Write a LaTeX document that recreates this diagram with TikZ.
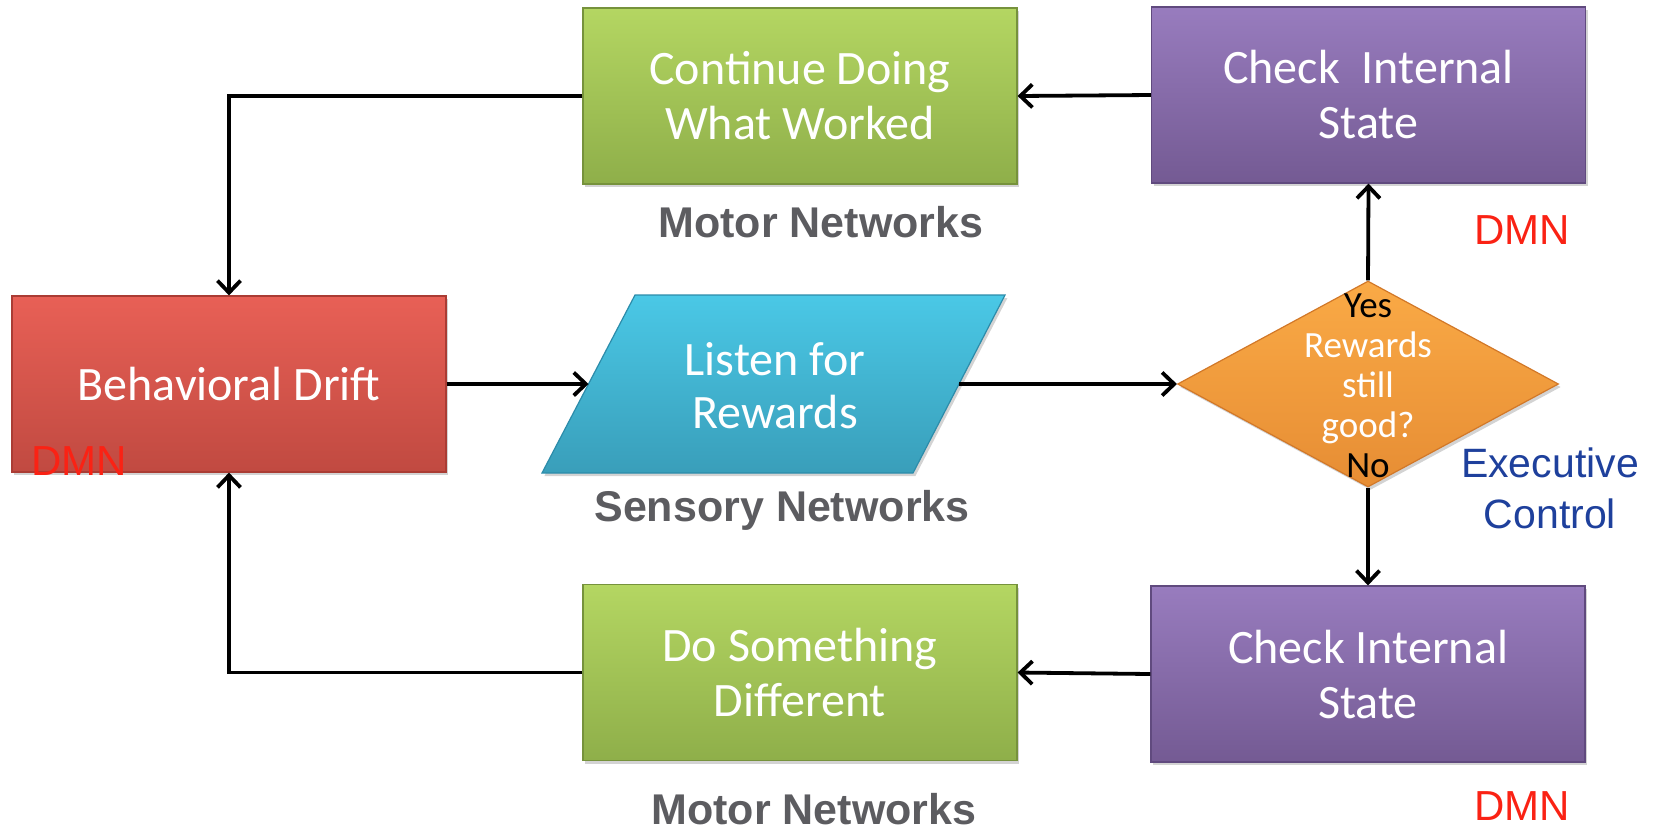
\documentclass[tikz,border=0pt]{standalone}
\usepackage{fontspec}
\setmainfont{Carlito}
\newfontfamily\labelfont{Liberation Sans}
\usetikzlibrary{shapes.geometric,arrows.meta,shadows}

\definecolor{driftred}{RGB}{214,82,72}
\definecolor{driftredtop}{RGB}{232,96,86}
\definecolor{driftreddark}{RGB}{170,60,52}
\definecolor{actgreen}{RGB}{155,190,80}
\definecolor{actgreentop}{RGB}{180,214,98}
\definecolor{actgreendark}{RGB}{118,146,60}
\definecolor{chkpurple}{RGB}{126,98,160}
\definecolor{chkpurpletop}{RGB}{152,124,190}
\definecolor{chkpurpledark}{RGB}{96,74,126}
\definecolor{sensecyan}{RGB}{62,172,202}
\definecolor{sensecyantop}{RGB}{74,200,230}
\definecolor{sensecyandark}{RGB}{44,140,170}
\definecolor{decorange}{RGB}{245,150,55}
\definecolor{decorangetop}{RGB}{250,170,70}
\definecolor{decorangedark}{RGB}{210,120,40}
\definecolor{netgray}{RGB}{92,92,96}
\definecolor{dmnred}{RGB}{250,34,20}
\definecolor{execblue}{RGB}{30,64,156}

\tikzset{
  boxshadow/.style={drop shadow={opacity=0.35, shadow xshift=1.2pt, shadow yshift=-1.5pt}},
  stepbox/.style={rectangle, line width=0.6pt, minimum width=217pt, minimum height=88pt,
    inner sep=0pt, align=center, text=white, font=\fontsize{24}{27.5}\selectfont, boxshadow},
  driftbox/.style={stepbox, draw=driftreddark, top color=driftredtop, bottom color=driftred!90!black},
  actbox/.style={stepbox, draw=actgreendark, top color=actgreentop, bottom color=actgreen!92!black},
  chkbox/.style={stepbox, draw=chkpurpledark, top color=chkpurpletop, bottom color=chkpurple!92!black},
  flowline/.style={line width=1.9pt, -{Straight Barb[length=6pt,width=11.5pt,line width=1.9pt]}},
  netlabel/.style={text=netgray, font=\labelfont\bfseries\fontsize{21.5}{26}\selectfont},
  dmnlabel/.style={text=dmnred, font=\labelfont\fontsize{21}{25}\selectfont},
}

\begin{document}
\begin{tikzpicture}[x=0.5pt,y=0.5pt,yscale=-1,xscale=1]
\useasboundingbox (0,0) rectangle (1657,832);

%Shape: Rectangle [id:drift]
\node [driftbox] (drift) at (229,384) {Behavioral Drift};
%Shape: Rectangle [id:cont]
\node [actbox] (cont) at (800,96) {Continue Doing\\What Worked};
%Shape: Rectangle [id:dosth]
\node [actbox] (dosth) at (800,672.5) {Do Something\\Different};
%Shape: Rectangle [id:chktop]
\node [chkbox] (chktop) at (1368.5,95) {Check\ \ Internal\\State};
%Shape: Rectangle [id:chkbot]
\node [chkbox] (chkbot) at (1368,674) {Check Internal\\State};
%Shape: Parallelogram [id:listen]
\path [draw=sensecyandark, line width=0.6pt, top color=sensecyantop, bottom color=sensecyan!92!black, boxshadow]
  (635,295) -- (1005,295) -- (913,473) -- (542,473) -- cycle;
\coordinate (lsnin) at (588.5,384);
\coordinate (lsnout) at (959,384);
\node [align=center, text=white, font=\fontsize{24}{26.5}\selectfont] (listen) at (775,386) {Listen for\\Rewards};
%Shape: Diamond [id:rew]
\node [diamond, minimum width=190.5pt, minimum height=103pt, inner sep=0pt,
  draw=decorangedark, line width=0.6pt, top color=decorangetop, bottom color=decorange!94!black,
  boxshadow]
  (rew) at (1368,384) {};
\node [align=center, text=white, font=\fontsize{18.5}{20}\selectfont] (rewtxt) at (1368,386)
  {\textcolor{black}{Yes}\\Rewards\\still\\good?\\\textcolor{black}{No}};

% Connectors
\draw [flowline] (cont.west) -| (drift.north);
\draw [flowline] (dosth.west) -| (drift.south);
\draw [flowline] (drift.east) -- (lsnin);
\draw [flowline] (lsnout) -- (rew.west);
\draw [flowline] (rew.north) -- (chktop.south);
\draw [flowline] (rew.south) -- (chkbot.north);
\draw [flowline] (chktop.west) -- (cont.east);
\draw [flowline] (chkbot.west) -- (dosth.east);

% Text Node
\node [netlabel] (mottop) at (821,222) {Motor Networks};
% Text Node
\node [netlabel] (sens) at (782,510) {Sensory Networks};
% Text Node
\node [netlabel] (motbot) at (814,809) {Motor Networks};
% Text Node
\node [dmnlabel] (dmndrift) at (79,461) {DMN};
% Text Node
\node [dmnlabel] (dmntop) at (1522,230) {DMN};
% Text Node
\node [dmnlabel] (dmnbot) at (1522,806) {DMN};
% Text Node
\node [align=center, text=execblue, font=\labelfont\fontsize{20.5}{25.5}\selectfont] (exec) at (1550,488) {Executive\\Control};

\end{tikzpicture}
\end{document}
